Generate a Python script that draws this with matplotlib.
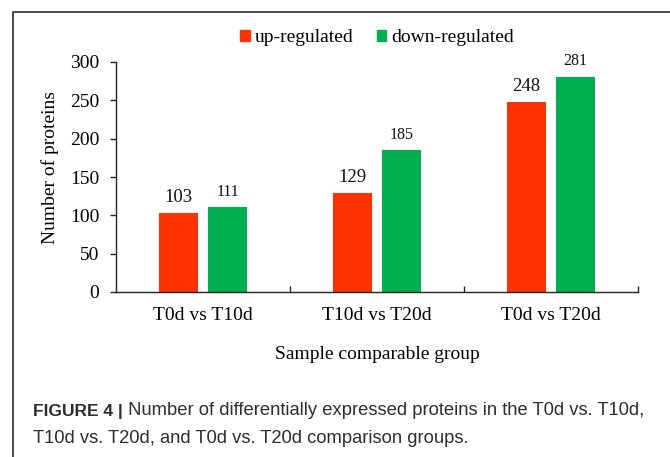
import matplotlib
matplotlib.use('Agg')
import matplotlib.pyplot as plt
import matplotlib.patches as mpatches
from matplotlib.lines import Line2D
import numpy as np

groups = ['T0d vs T10d', 'T10d vs T20d', 'T0d vs T20d']
up_reg = [103, 129, 248]
down_reg = [111, 185, 281]
series_names = ['up-regulated', 'down-regulated']
yticks = [0, 50, 100, 150, 200, 250, 300]

RED = '#ff3300'
GREEN = '#00b050'
SERIF = 'Liberation Serif'
SANS = 'Liberation Sans'

W, H = 670, 457
fig = plt.figure(figsize=(W / 100, H / 100), dpi=100)
fig.patch.set_facecolor('white')

# plot area in pixel terms -> figure fractions
x0, x1, ybot, ytop = 116, 638, 292, 62
ax = fig.add_axes([x0 / W, 1 - ybot / H, (x1 - x0) / W, (ybot - ytop) / H])

x = np.arange(len(groups))
bw = 0.227
off = 0.142
b_up = ax.bar(x - off, up_reg, bw, color=RED)
b_dn = ax.bar(x + off, down_reg, bw, color=GREEN)

for rect, v in zip(b_up, up_reg):
    ax.annotate(str(v), (rect.get_x() + rect.get_width() / 2, v),
                xytext=(0, 8), textcoords='offset points', ha='center',
                va='baseline', family=SERIF, fontsize=13.5, color='#111111')
for rect, v in zip(b_dn, down_reg):
    ax.annotate(str(v), (rect.get_x() + rect.get_width() / 2, v),
                xytext=(0, 8), textcoords='offset points', ha='center',
                va='baseline', family=SERIF, fontsize=11.5, color='#111111')

ax.set_xlim(-0.5, len(groups) - 0.5)
ax.set_ylim(0, 300)
ax.set_yticks(yticks)
ax.set_yticklabels([str(t) for t in yticks], family=SERIF, fontsize=14)

# ticks at group boundaries, labels at group centres
ax.set_xticks(x + 0.5)
ax.set_xticklabels([])
ax.set_xticks(x, minor=True)
ax.set_xticklabels(groups, minor=True, family=SERIF, fontsize=14)
ax.tick_params(axis='x', which='major', direction='in', length=4, width=1, color='#222222')
ax.tick_params(axis='x', which='minor', length=0, pad=11)
ax.tick_params(axis='y', direction='out', length=4, width=1, color='#222222', pad=8)

for s in ['top', 'right']:
    ax.spines[s].set_visible(False)
for s in ['left', 'bottom']:
    ax.spines[s].set_linewidth(1.0)
    ax.spines[s].set_color('#222222')

ax.set_ylabel('Number of proteins', family=SERIF, fontsize=14)
ax.yaxis.set_label_coords(-0.11, 0.54)
ax.set_xlabel('Sample comparable group', family=SERIF, fontsize=14)
ax.xaxis.set_label_coords(0.5, -0.235)

handles = [mpatches.Patch(color=RED), mpatches.Patch(color=GREEN)]
fig.legend(handles, series_names, loc='center', bbox_to_anchor=(0.5625, 1 - 38 / H),
           ncol=2, frameon=False, handlelength=0.5, handleheight=0.5,
           handletextpad=0.25, columnspacing=1.2,
           prop={'family': SERIF, 'size': 14})

# frame lines of the figure panel
fig.add_artist(Line2D([13 / W, 13 / W, 1], [0, 1 - 12 / H, 1 - 12 / H],
                      transform=fig.transFigure, color='#3c3c3c', lw=1.3))

# caption
cap_col = '#2e2e2e'
cap_size = 13.2
t1 = fig.text(33 / W, 1 - 416 / H, 'FIGURE 4 |', family=SANS, fontweight='bold',
              fontsize=12.5, color=cap_col, va='baseline')
ax.annotate(' Number of differentially expressed proteins in the T0d vs. T10d,',
            xy=(1, 0), xycoords=t1, va='bottom', ha='left', family=SANS,
            fontsize=cap_size, color=cap_col)
fig.text(33 / W, 1 - 443 / H, 'T10d vs. T20d, and T0d vs. T20d comparison groups.',
         family=SANS, fontsize=cap_size, color=cap_col, va='baseline')

fig.savefig('out.png', dpi=100, facecolor='white')
